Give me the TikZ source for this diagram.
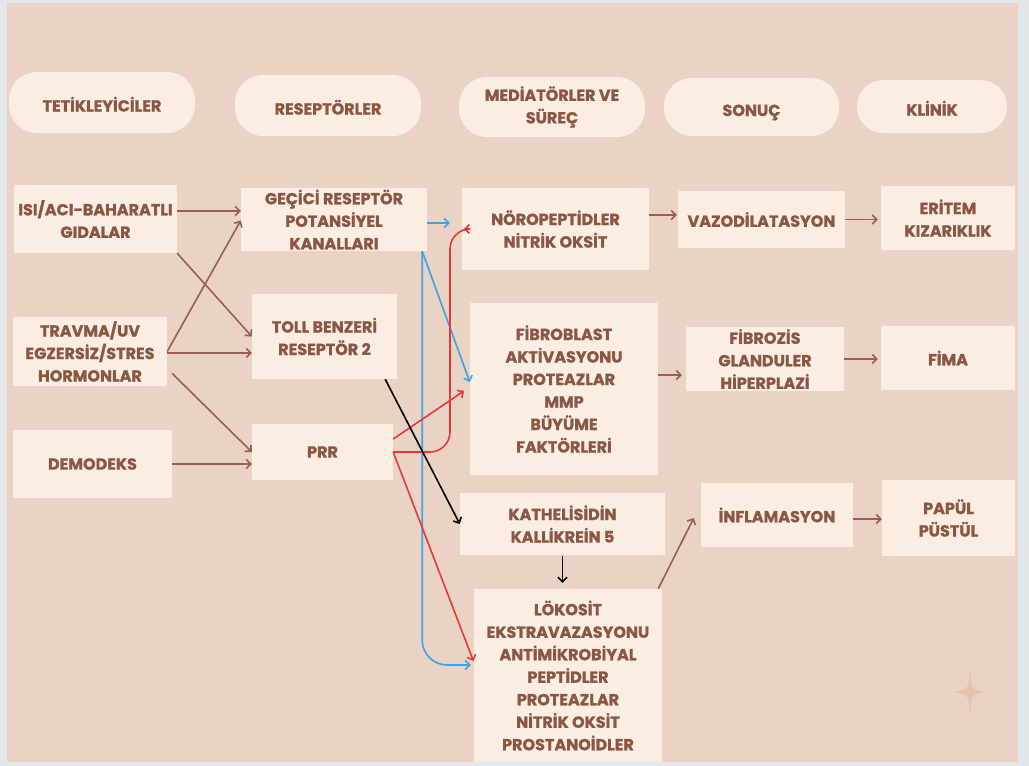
\documentclass[tikz,border=0pt]{standalone}
\usepackage{fontspec}
\setmainfont{Poppins}[BoldFeatures={FakeBold=1.2}]
\usetikzlibrary{arrows.meta,calc}
\definecolor{framec}{HTML}{E3E7EB}
\definecolor{bgc}{HTML}{EAD3C4}
\definecolor{boxc}{HTML}{FCEDE3}
\definecolor{txtc}{HTML}{8A5744}
\definecolor{arrc}{HTML}{9A5D55}
\definecolor{bluec}{HTML}{3DA4E3}
\definecolor{redc}{HTML}{E8373A}
\definecolor{starc}{HTML}{E3C3AC}
\begin{document}
\begin{tikzpicture}[x=1pt,y=-1pt,
  every node/.style={font=\fontsize{16}{22.5}\selectfont\bfseries, text=txtc, align=center, inner sep=0pt},
  bx/.style={fill=boxc},
  pill/.style={fill=boxc, rounded corners=28pt},
  lowtext/.style={text height=18pt, text depth=0pt},
  tip/.style={-{Straight Barb[length=4.5pt,width=9pt]}},
  brarrow/.style={draw=arrc, line width=1.6pt, tip},
  bluearrow/.style={draw=bluec, line width=1.6pt, tip},
  redarrow/.style={draw=redc, line width=1.6pt, tip},
  blackarrow/.style={draw=black, line width=1.6pt, tip}]
\useasboundingbox (0,0) rectangle (1029,766);
\fill[framec] (0,0) rectangle (1029,766);
\fill[bgc] (7,3) rectangle (1018,762);
% sparkle
\fill[starc] (970,667) .. controls (971,689) .. (985,692) .. controls (971,695) .. (970,717) .. controls (969,695) .. (955,692) .. controls (969,689) .. (970,667) -- cycle;
% headers
\node[pill, lowtext, minimum width=186pt, minimum height=61pt] (h1) at (102,102.5) {TETİKLEYİCİLER};
\node[pill, lowtext, minimum width=186pt, minimum height=61pt] (h2) at (328,105.5) {RESEPTÖRLER};
\node[pill, minimum width=186pt, minimum height=60pt] (h3) at (552,107) {MEDİATÖRLER VE\\SÜREÇ};
\node[pill, lowtext, minimum width=175pt, minimum height=58pt] (h4) at (751.5,107) {SONUÇ};
\node[pill, lowtext, minimum width=150pt, minimum height=53pt, rounded corners=26pt] (h5) at (932,106.5) {KLİNİK};
% column 1
\node[bx, minimum width=163pt, minimum height=68pt] (isi) at (95.5,219) {ISI/ACI-BAHARATLI\\GIDALAR};
\node[bx, minimum width=154pt, minimum height=69pt] (travma) at (90,351.5) {TRAVMA/UV\\EGZERSİZ/STRES\\HORMONLAR};
\node[bx, minimum width=159pt, minimum height=68pt] (demo) at (92.5,464) {DEMODEKS};
% column 2
\node[bx, minimum width=186pt, minimum height=63pt] (gecici) at (334,219.5) {GEÇİCİ RESEPTÖR\\POTANSİYEL\\KANALLARI};
\node[bx, minimum width=145pt, minimum height=85pt] (toll) at (324.5,336.5) {TOLL BENZERİ\\RESEPTÖR 2};
\node[bx, minimum width=141pt, minimum height=56pt] (prr) at (322.5,452) {PRR};
% column 3
\node[bx, minimum width=187pt, minimum height=82pt] (noro) at (555.5,229) {NÖROPEPTİDLER\\NİTRİK OKSİT};
\node[bx, minimum width=188pt, minimum height=172pt] (fibro) at (564,389) {FİBROBLAST\\AKTİVASYONU\\PROTEAZLAR\\MMP\\BÜYÜME\\FAKTÖRLERİ};
\node[bx, minimum width=205pt, minimum height=62pt] (kath) at (562.5,524) {KATHELİSİDİN\\KALLİKREİN 5};
\node[bx, minimum width=188pt, minimum height=173pt] (lok) at (568,675.5) {LÖKOSİT\\EKSTRAVAZASYONU\\ANTİMİKROBİYAL\\PEPTİDLER\\PROTEAZLAR\\NİTRİK OKSİT\\PROSTANOİDLER};
% column 4
\node[bx, minimum width=167pt, minimum height=57pt] (vazo) at (761.5,219.5) {VAZODİLATASYON};
\node[bx, minimum width=158pt, minimum height=64pt] (fibrozis) at (765,359) {FİBROZİS\\GLANDULER\\HİPERPLAZİ};
\node[bx, minimum width=152pt, minimum height=64pt] (infl) at (777,515) {İNFLAMASYON};
% column 5
\node[bx, minimum width=134pt, minimum height=64pt] (eritem) at (948,218) {ERİTEM\\KIZARIKLIK};
\node[bx, minimum width=134pt, minimum height=64pt] (fima) at (948,358) {FİMA};
\node[bx, minimum width=133pt, minimum height=76pt] (papul) at (948.5,518) {PAPÜL\\PÜSTÜL};
% brown connectors
\draw[brarrow] ([yshift=8pt]isi.east) -- ([yshift=8pt]isi.east -| gecici.west);
\draw[brarrow] (isi.south east) -- (toll.west);
\draw[brarrow] (travma.east) -- ([yshift=-1pt]gecici.west);
\draw[brarrow] ([yshift=-1.5pt]travma.east) -- ([yshift=-1.5pt]travma.east -| toll.west);
\draw[brarrow] ($(travma.east)+(5,22)$) -- (prr.west);
\draw[brarrow] (demo.east) -- (demo.east -| prr.west);
\draw[brarrow, shorten >=1pt] ([yshift=14pt]noro.east) -- ([yshift=14pt]noro.east -| vazo.west);
\draw[brarrow, shorten >=3pt] (vazo.east) -- (vazo.east -| eritem.west);
\draw[brarrow, shorten >=4pt] ([yshift=14pt]fibro.east) -- ([yshift=14pt]fibro.east -| fibrozis.west);
\draw[brarrow, shorten >=3pt] (fibrozis.east) -- (fibrozis.east -| fima.west);
\draw[brarrow] ([xshift=-4pt]lok.north east) -- ([xshift=-7pt,yshift=-3pt]infl.west);
\draw[brarrow] ([yshift=-4pt]infl.east) -- ([yshift=-4pt]infl.east -| papul.west);
% blue connectors
\draw[bluearrow, shorten >=12pt] ([yshift=-3.5pt]gecici.east) -- ([yshift=-3.5pt]gecici.east -| noro.west);
\draw[bluearrow] ([xshift=-5pt]gecici.south east) -- ([yshift=7pt]fibro.west);
\draw[bluearrow, rounded corners=25pt, shorten >=3pt] ([xshift=-5pt]gecici.south east) |- ([yshift=10.5pt]lok.west);
% red connectors
\coordinate (rbend) at (450,229);
\draw[redarrow, shorten >=2pt] (prr.east) [rounded corners=20pt] -| (rbend) [rounded corners=8pt] -- (noro.west);
\draw[redarrow, shorten >=7pt] ([yshift=13pt]prr.east) -- ([yshift=2pt]fibro.west);
\draw[redarrow, shorten >=1pt] (prr.east) -- ([yshift=13.5pt]lok.west);
% black connectors
\draw[blackarrow] ([xshift=-12pt]toll.south east) -- (kath.west);
\draw[blackarrow, shorten >=6pt, shorten <=1pt] (kath.south) -- (kath.south |- lok.north);
\end{tikzpicture}
\end{document}
